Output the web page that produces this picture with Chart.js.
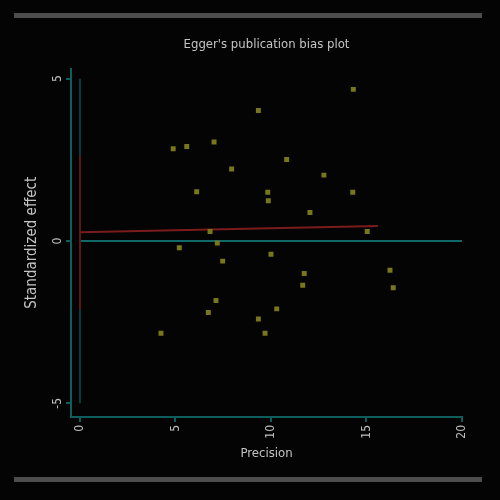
<!DOCTYPE html>
<html>
<head>
<meta charset="utf-8">
<script src="https://cdn.jsdelivr.net/npm/chart.js@4"></script>
<style>
  html, body { margin: 0; padding: 0; background: #040404; }
  #wrap { position: relative; width: 500px; height: 500px; }
  .bar { position: absolute; left: 14px; width: 468px; height: 5px; background: #4d4d4d; }
</style>
</head>
<body>
<div id="wrap">
  <div class="bar" style="top:13px"></div>
  <canvas id="eggerChart" width="500" height="500"></canvas>
  <div class="bar" style="top:477px"></div>
</div>
<script>
// data
const precision = [14.31, 9.34, 4.88, 5.59, 7.02, 10.82, 7.94, 12.77, 6.11, 9.83, 9.86, 14.28, 12.04, 6.81, 15.04,
                   7.19, 5.20, 10.00, 7.47, 11.74, 16.23, 11.66, 16.40, 7.12, 6.72, 10.30, 9.34, 4.24, 9.69];
const stdEffect = [4.67, 4.02, 2.84, 2.91, 3.05, 2.51, 2.22, 2.03, 1.52, 1.50, 1.24, 1.50, 0.88, 0.29, 0.29,
                   -0.06, -0.21, -0.41, -0.62, -1.00, -0.90, -1.36, -1.44, -1.83, -2.20, -2.09, -2.40, -2.84, -2.84];

// regression line (Egger) and intercept CI
const fitX = [0, 15.6];
const fitY = [0.27, 0.46];
const ciY = [-2.11, 2.63];
const refY = [-5, 5];       // vertical reference at precision 0
const zeroX = [0, 20];      // horizontal line at effect 0

const xTicks = [0, 5, 10, 15, 20];
const yTicks = [-5, 0, 5];

const teal = '#0f5e5e';
const labelFont = "'Liberation Sans Narrow', 'DejaVu Sans Condensed', sans-serif";

const toPts = (xs, ys) => xs.map((x, i) => ({ x: x, y: ys[i] }));

const ctx = document.getElementById('eggerChart').getContext('2d');
new Chart(ctx, {
    type: 'scatter',
    data: {
        datasets: [
            {
                label: 'studies',
                data: toPts(precision, stdEffect),
                pointStyle: 'rect',
                pointRadius: 3.5,
                backgroundColor: '#77771c',
                borderWidth: 0,
                order: 0
            },
            {
                label: 'fit',
                data: toPts(fitX, fitY),
                showLine: true,
                borderColor: '#7a1c1c',
                borderWidth: 2,
                pointRadius: 0,
                order: 1
            },
            {
                label: 'ci',
                data: toPts([0, 0], ciY),
                showLine: true,
                borderColor: '#5e1818',
                borderWidth: 2,
                pointRadius: 0,
                order: 2
            },
            {
                label: 'zero',
                data: toPts(zeroX, [0, 0]),
                showLine: true,
                borderColor: '#106868',
                borderWidth: 2,
                pointRadius: 0,
                order: 3
            },
            {
                label: 'ref',
                data: toPts([0, 0], refY),
                showLine: true,
                borderColor: '#0a3c3c',
                borderWidth: 2,
                pointRadius: 0,
                order: 4
            }
        ]
    },
    options: {
        responsive: false,
        animation: false,
        layout: { padding: { left: 14, right: 38, top: 28, bottom: 30 } },
        plugins: {
            legend: { display: false },
            tooltip: { enabled: false },
            title: {
                display: true,
                text: "Egger's publication bias plot",
                fullSize: false,
                color: '#c4c4c4',
                font: { family: labelFont, size: 13, weight: 'normal' },
                padding: { top: 9, bottom: 16 }
            }
        },
        scales: {
            x: {
                type: 'linear',
                min: -0.47,
                max: 20,
                afterBuildTicks: s => { s.ticks = xTicks.map(v => ({ value: v })); },
                afterFit: s => { s.height = 53; },
                border: { color: teal, width: 2 },
                grid: { drawOnChartArea: false, color: teal, lineWidth: 2, tickLength: 5 },
                ticks: {
                    color: '#bdbdbd',
                    font: { family: labelFont, size: 12 },
                    minRotation: 90,
                    maxRotation: 90,
                    padding: 3
                },
                title: {
                    display: true,
                    text: 'Precision',
                    color: '#c4c4c4',
                    font: { family: labelFont, size: 13 },
                    padding: { top: 0, bottom: 9 }
                }
            },
            y: {
                type: 'linear',
                min: -5.42,
                max: 5.31,
                afterBuildTicks: s => { s.ticks = yTicks.map(v => ({ value: v })); },
                afterFit: s => { s.width = 57; },
                border: { color: teal, width: 2 },
                grid: { drawOnChartArea: false, color: teal, lineWidth: 2, tickLength: 5 },
                ticks: {
                    color: '#bdbdbd',
                    font: { family: labelFont, size: 12 },
                    minRotation: 90,
                    maxRotation: 90,
                    crossAlign: 'center',
                    padding: 3
                },
                title: {
                    display: true,
                    text: 'Standardized effect',
                    color: '#c4c4c4',
                    font: { family: labelFont, size: 15 },
                    padding: { top: 9, bottom: 0 }
                }
            }
        }
    }
});
</script>
</body>
</html>
